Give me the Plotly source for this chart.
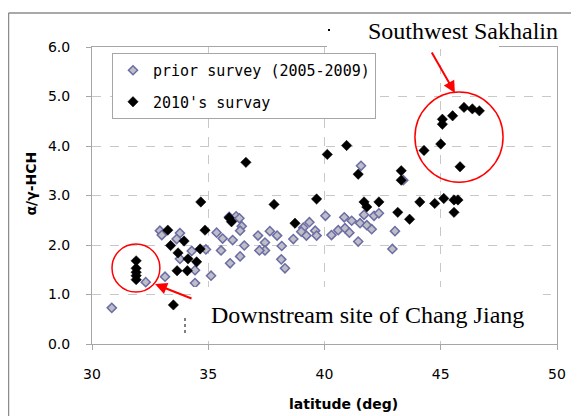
import plotly.graph_objects as go

# prior survey (2005-2009)
prior_lat = [30.85, 32.31, 33.14, 32.92, 33.0, 33.78, 33.64, 34.29, 33.78, 34.43, 34.43,
             35.12, 34.9, 35.36, 35.62, 35.55, 35.94, 36.05, 35.9, 36.2, 36.34, 36.44,
             36.37, 36.55, 36.37, 37.14, 37.44, 37.44, 37.2, 37.65, 37.96, 38.16, 38.14,
             38.3, 38.66, 39.09, 39.35, 39.22, 39.6, 39.66, 39.0, 40.04, 40.3, 40.59,
             40.85, 40.88, 41.07, 41.17, 41.45, 41.53, 41.7, 41.82, 42.03, 42.13, 42.34,
             43.03, 42.92, 41.57, 43.39]
prior_ratio = [0.73, 1.25, 1.36, 2.29, 2.20, 2.24, 2.12, 1.88, 1.72, 1.49, 1.23,
               1.38, 1.91, 2.25, 2.13, 1.89, 1.63, 2.10, 2.57, 2.58, 2.54, 2.38,
               2.29, 1.99, 1.77, 2.19, 2.05, 1.89, 1.89, 2.28, 2.19, 1.98, 1.71,
               1.53, 2.12, 2.35, 2.46, 2.19, 2.29, 2.19, 2.27, 2.59, 2.20, 2.30,
               2.56, 2.34, 2.25, 2.49, 2.07, 2.44, 2.61, 2.40, 2.32, 2.59, 2.64,
               2.28, 1.92, 3.60, 3.31]

# 2010's survay
s2010_lat = [31.9, 31.9, 31.9, 31.9, 31.9, 33.5, 33.26, 33.38, 33.7, 33.96, 34.13,
             34.5, 34.65, 33.66, 34.1, 34.86, 34.68, 35.9, 36.0, 36.62, 37.83, 38.73,
             39.66, 40.12, 40.95, 41.45, 41.7, 41.82, 42.34, 43.15, 43.3, 43.3, 43.66,
             44.1, 44.28, 44.74, 45.0, 45.07, 45.07, 45.13, 45.51, 45.57, 45.74, 45.57,
             45.83, 46.0, 46.36, 46.66]
s2010_ratio = [1.68, 1.53, 1.45, 1.38, 1.30, 0.79, 2.30, 1.99, 1.84, 2.08, 1.72,
               1.66, 1.92, 1.48, 1.48, 2.30, 2.87, 2.55, 2.47, 3.67, 2.82, 2.44,
               2.93, 3.83, 4.01, 3.43, 2.87, 2.77, 2.87, 2.66, 3.50, 3.31, 2.52,
               2.87, 3.91, 2.84, 4.04, 4.44, 4.54, 2.94, 4.61, 2.91, 2.91, 2.66,
               3.58, 4.78, 4.75, 4.71]

x_ticks = [30, 35, 40, 45, 50]
y_ticks = [0, 1, 2, 3, 4, 5, 6]

# The page has an 8px body margin, so the figure starts at page (8, 8).
OFF = 8
PAGE_W, PAGE_H = 579, 416
# plot-area edges in page pixels (decoration helpers only)
L, R, T, B = 92, 557, 47, 344
def px(xp):
    return (xp - L) / (R - L)
def py(yp):
    return (B - yp) / (B - T)

fig = go.Figure()
fig.add_trace(go.Scatter(
    x=prior_lat, y=prior_ratio, mode="markers", name="prior survey (2005-2009)",
    legendgroup="a",
    marker=dict(symbol="diamond", size=7, color="#BEBEC6",
                line=dict(color="#6C6CA6", width=1.5))))
fig.add_trace(go.Scatter(
    x=s2010_lat, y=s2010_ratio, mode="markers", name="2010's survay",
    legendgroup="b",
    marker=dict(symbol="diamond", size=8, color="black",
                line=dict(color="black", width=0.5))))

axis_common = dict(showline=True, linecolor="#A6A6A6", linewidth=1, mirror=True,
                   showgrid=True, gridcolor="#C8C8C8", griddash="dash", gridwidth=1,
                   zeroline=False, ticks="outside", ticklen=5, tickcolor="#A6A6A6",
                   tickfont=dict(family="DejaVu Sans", size=14, color="black"))

fig.update_xaxes(range=[30, 50], tickvals=x_ticks, ticklabelstandoff=12, **axis_common)
fig.update_yaxes(range=[0, 6], tickvals=y_ticks, tickformat=".1f",
                 ticklabelstandoff=13, **axis_common)

shapes = [
    # outer frame
    dict(type="line", xref="paper", yref="paper", x0=px(8.5), x1=px(8.5), y0=py(13), y1=py(430),
         line=dict(color="#8C8C8C", width=1.5)),
    dict(type="line", xref="paper", yref="paper", x0=px(8.5), x1=px(590), y0=py(13), y1=py(13),
         line=dict(color="#8C8C8C", width=1.5)),
    # white text boxes
    dict(type="rect", xref="paper", yref="paper", x0=px(327), x1=px(499), y0=py(16), y1=py(49),
         fillcolor="white", line=dict(width=0), layer="above"),
    dict(type="rect", xref="paper", yref="paper", x0=px(193), x1=px(543), y0=py(287), y1=py(341),
         fillcolor="white", line=dict(width=0), layer="above"),
    # small artifacts
    dict(type="line", xref="paper", yref="paper", x0=px(185), x1=px(185), y0=py(318), y1=py(335),
         line=dict(color="black", width=1, dash="dot"), layer="above"),
    dict(type="rect", xref="paper", yref="paper", x0=px(328), x1=px(330), y0=py(29), y1=py(31),
         fillcolor="black", line=dict(width=0), layer="above"),
    # red circles
    dict(type="circle", xref="x", yref="y", x0=43.89, x1=47.68, y0=3.27, y1=5.09,
         line=dict(color="#FF0000", width=1.5), layer="above"),
    dict(type="circle", xref="x", yref="y", x0=30.86, x1=32.92, y0=1.05, y1=2.02,
         line=dict(color="#FF0000", width=1.5), layer="above"),
]

annotations = [
    dict(text="Southwest Sakhalin", xref="paper", yref="paper", x=px(462.5), y=py(31),
         xanchor="center", yanchor="middle", showarrow=False,
         font=dict(family="Liberation Serif", size=24, color="black")),
    dict(text="Downstream site of Chang Jiang", xref="paper", yref="paper", x=px(367.5), y=py(315),
         xanchor="center", yanchor="middle", showarrow=False,
         font=dict(family="Liberation Serif", size=24, color="black")),
    dict(text="latitude (deg)", xref="paper", yref="paper", x=px(343.5), y=py(404),
         xanchor="center", yanchor="middle", showarrow=False,
         font=dict(family="DejaVu Sans", size=14, color="black", weight="bold")),
    dict(text="α/γ-HCH", xref="paper", yref="paper", x=px(30), y=py(183.5), textangle=-90,
         xanchor="center", yanchor="middle", showarrow=False,
         font=dict(family="DejaVu Sans", size=14, color="black", weight="bold")),
    # arrows
    dict(text="", x=45.61, y=5.07, xref="x", yref="y", ax=-24, ay=-42, showarrow=True,
         arrowhead=2, arrowsize=1.2, arrowwidth=2, arrowcolor="#FF0000", standoff=0),
    dict(text="", x=32.71, y=1.21, xref="x", yref="y", ax=38, ay=15, showarrow=True,
         arrowhead=2, arrowsize=1.2, arrowwidth=2, arrowcolor="#FF0000", standoff=0),
]

fig.update_layout(
    width=PAGE_W - OFF, height=PAGE_H - OFF,
    margin=dict(l=L - OFF, r=PAGE_W - R, t=T - OFF, b=PAGE_H - B, autoexpand=False),
    paper_bgcolor="white", plot_bgcolor="white",
    showlegend=True,
    legend=dict(x=px(112), y=py(53), xanchor="left", yanchor="top",
                bgcolor="white", bordercolor="#A6A6A6", borderwidth=1,
                font=dict(family="DejaVu Sans Mono", size=15, color="black"),
                tracegroupgap=9),
    shapes=shapes, annotations=annotations,
)

fig.write_html("out.html")
